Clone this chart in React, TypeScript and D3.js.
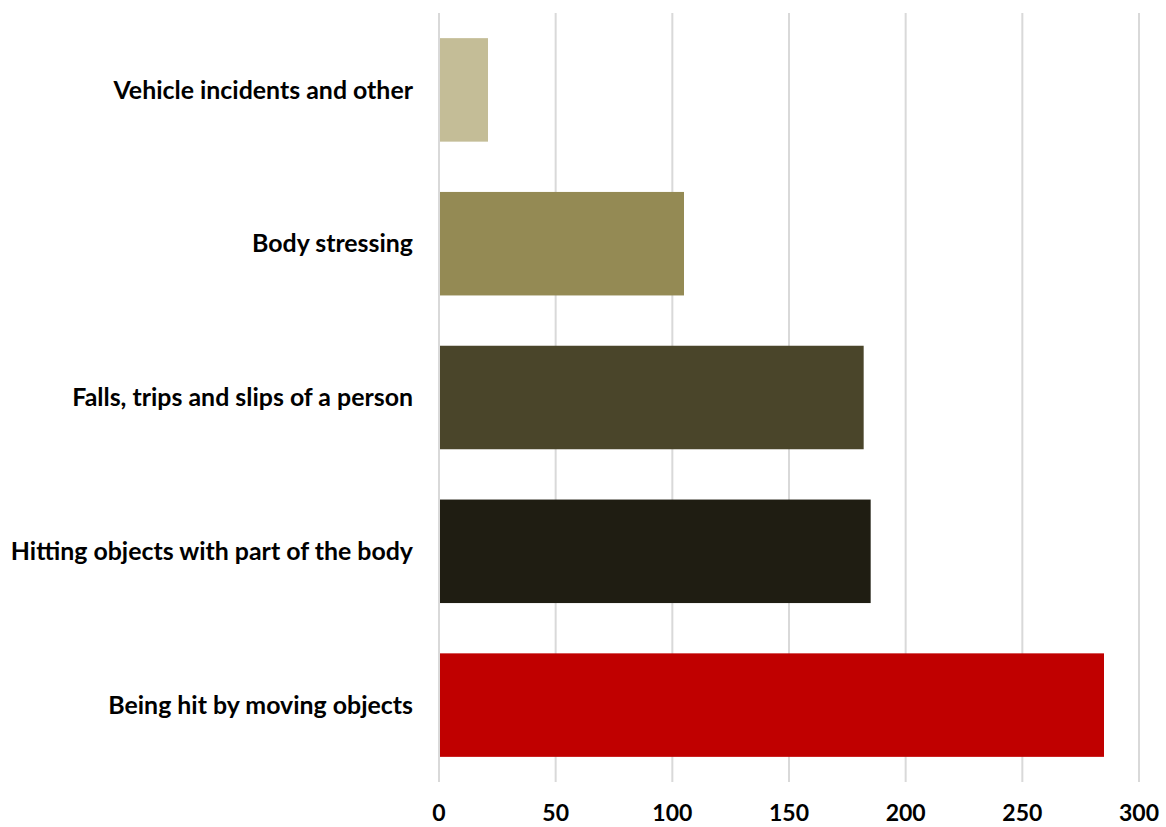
import React from "react";
import * as d3 from "d3";

const categories = [
  "Vehicle incidents and other",
  "Body stressing",
  "Falls, trips and slips of a person",
  "Hitting objects with part of the body",
  "Being hit by moving objects",
];
const values = [21, 105, 182, 185, 285];
const colors = ["#C4BD97", "#948A54", "#4A452A", "#1F1D12", "#C00000"];
const xTicks = [0, 50, 100, 150, 200, 250, 300];

const W = 1166;
const H = 827;
const margin = { left: 439, right: 27, top: 13, bottom: 45 };

export default function App() {
  const x = d3.scaleLinear().domain([0, 300]).range([margin.left, W - margin.right]);
  const y = d3
    .scaleBand<string>()
    .domain(categories)
    .range([margin.top, H - margin.bottom])
    .paddingInner(0.327)
    .paddingOuter(0.1635);
  const font = "Lato, 'Open Sans', sans-serif";
  return (
    <svg
      width={W}
      height={H}
      style={{ position: "absolute", left: 0, top: 0, background: "#fff" }}
    >
      {xTicks.map((t) => (
        <line
          key={"g" + t}
          x1={x(t)}
          x2={x(t)}
          y1={margin.top}
          y2={H - margin.bottom}
          stroke="#D9D9D9"
          strokeWidth={2}
        />
      ))}
      {categories.map((c, i) => (
        <rect
          key={c}
          x={x(0) + 1}
          y={y(c)}
          width={x(values[i]) - x(0) - 1}
          height={y.bandwidth()}
          fill={colors[i]}
        />
      ))}
      {categories.map((c) => (
        <text
          key={"l" + c}
          x={413}
          y={(y(c) as number) + y.bandwidth() / 2}
          dy="0.35em"
          textAnchor="end"
          fontFamily={font}
          fontWeight="bold"
          fontSize={24.9}
          fill="#000"
        >
          {c}
        </text>
      ))}
      {xTicks.map((t) => (
        <text
          key={"t" + t}
          x={x(t)}
          y={821}
          textAnchor="middle"
          fontFamily={font}
          fontWeight="bold"
          fontSize={23}
          fill="#000"
        >
          {t}
        </text>
      ))}
    </svg>
  );
}
